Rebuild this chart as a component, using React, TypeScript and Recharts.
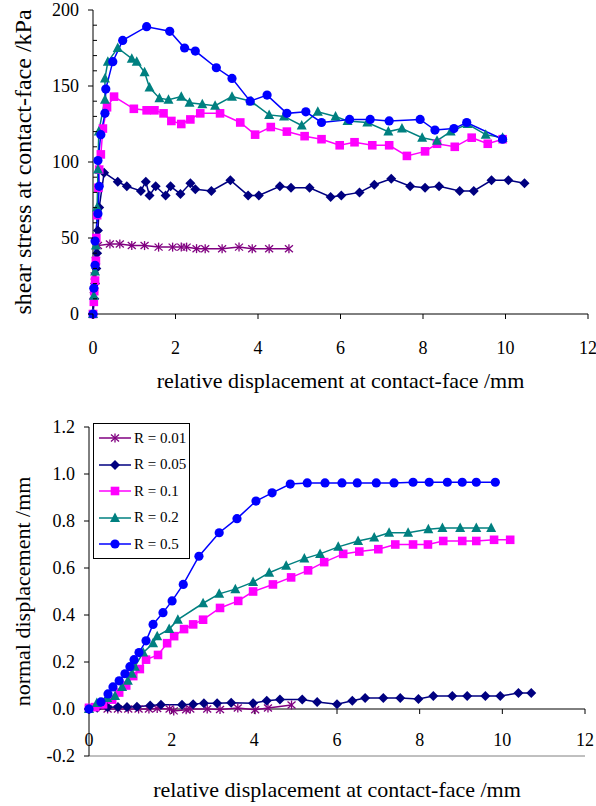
import { Legend, Line, LineChart, ReferenceLine, XAxis, YAxis } from 'recharts'

type Pt = [number, number]

const FONT = '"Liberation Serif", "Times New Roman", serif'

const seriesNames = ['R = 0.01', 'R = 0.05', 'R = 0.1', 'R = 0.2', 'R = 0.5']
const seriesColors = ['#800080', '#000080', '#FF00FF', '#008080', '#0000FF']
const seriesMarkers = ['star', 'diamond', 'square', 'triangle', 'circle']

const xTicks = [0, 2, 4, 6, 8, 10, 12]
const shearTicks = [0, 10, 20, 30, 40, 50, 60, 70, 80, 90, 100, 110, 120, 130, 140, 150, 160, 170, 180, 190, 200]
const normalTicks = [-0.2, 0, 0.2, 0.4, 0.6, 0.8, 1.0, 1.2]

const xTitle = 'relative displacement at contact-face /mm'
const shearTitle = 'shear stress at contact-face /kPa'
const normalTitle = 'normal displacement /mm'

// shear stress (kPa) against relative displacement (mm)
const shear001: Pt[] = [[0, 0], [0.02, 12], [0.04, 25], [0.07, 35], [0.12, 45], [0.41, 46], [0.65, 46], [0.94, 45], [1.25, 45], [1.59, 44], [1.93, 44], [2.14, 44], [2.27, 44], [2.51, 43], [2.72, 43], [3.13, 43], [3.54, 44], [3.86, 43], [4.27, 43], [4.75, 43]]
const shear005: Pt[] = [[0, 0], [0.03, 10], [0.05, 20], [0.08, 30], [0.1, 40], [0.12, 55], [0.15, 70], [0.27, 93], [0.6, 87], [0.82, 84], [1.16, 81], [1.28, 87], [1.37, 78], [1.52, 84], [1.76, 78], [1.88, 84], [2.12, 79], [2.36, 86], [2.48, 82], [2.87, 81], [3.33, 88], [3.76, 78], [4.02, 78], [4.53, 84], [4.8, 83], [5.25, 83], [5.76, 77], [6.02, 78], [6.46, 80], [6.82, 85], [7.23, 89], [7.69, 84], [8.05, 83], [8.39, 84], [8.89, 81], [9.23, 81], [9.66, 88], [10.07, 88], [10.46, 86]]
const shear01: Pt[] = [[0, 0], [0.02, 8], [0.03, 15], [0.05, 22], [0.07, 35], [0.08, 50], [0.1, 65], [0.13, 83], [0.15, 95], [0.19, 105], [0.24, 122], [0.34, 136], [0.51, 143], [0.99, 135], [1.3, 134], [1.49, 134], [1.71, 132], [1.9, 127], [2.14, 125], [2.36, 128], [2.6, 132], [3.08, 132], [3.57, 126], [3.93, 118], [4.31, 123], [4.7, 120], [5.13, 117], [5.54, 115], [5.98, 111], [6.34, 113], [6.77, 111], [7.18, 111], [7.61, 104], [8.05, 107], [8.34, 112], [8.77, 110], [9.18, 116], [9.57, 112], [9.93, 115]]
const shear02: Pt[] = [[0, 0], [0.02, 12], [0.05, 28], [0.07, 45], [0.1, 70], [0.12, 95], [0.14, 120], [0.29, 141], [0.29, 155], [0.36, 166], [0.6, 175], [0.94, 168], [1.06, 166], [1.25, 159], [1.37, 149], [1.61, 142], [1.83, 141], [2.14, 143], [2.34, 139], [2.65, 138], [2.96, 137], [3.37, 143], [3.83, 140], [4.27, 131], [4.63, 130], [5.06, 124], [5.45, 133], [5.88, 130], [6.17, 127], [6.65, 126], [7.16, 120], [7.49, 122], [7.98, 116], [8.34, 114], [8.67, 120], [9.08, 125], [9.52, 118], [9.93, 116]]
const shear05: Pt[] = [[0, 0], [0.02, 17], [0.05, 32], [0.05, 48], [0.12, 66], [0.15, 84], [0.12, 101], [0.19, 118], [0.29, 132], [0.31, 148], [0.48, 166], [0.72, 180], [1.3, 189], [1.86, 186], [2.22, 175], [2.48, 173], [2.99, 162], [3.37, 155], [3.81, 140], [4.22, 144], [4.7, 132], [5.16, 133], [5.54, 126], [6.22, 128], [6.72, 128], [7.18, 127], [7.93, 128], [8.29, 121], [8.75, 122], [9.06, 126], [9.93, 115]]

// normal displacement (mm) against relative displacement (mm)
const normal001: Pt[] = [[0, 0], [0.45, 0], [0.7, 0], [0.95, 0], [1.2, 0], [1.45, 0], [1.65, 0.002], [1.95, 0], [2.05, -0.008], [2.35, -0.003], [2.45, 0], [2.86, 0], [3.17, -0.002], [3.6, 0.004], [4.02, -0.003], [4.33, 0.004], [4.9, 0.017]]
const normal005: Pt[] = [[0, 0], [0.2, 0.005], [0.45, 0.007], [0.7, 0.008], [0.92, 0.008], [1.16, 0.01], [1.48, 0.015], [1.74, 0.018], [2.25, 0.018], [2.52, 0.02], [2.78, 0.025], [3.1, 0.025], [3.44, 0.027], [3.97, 0.025], [4.3, 0.035], [4.62, 0.04], [5.16, 0.04], [5.52, 0.03], [6.0, 0.02], [6.37, 0.035], [6.68, 0.047], [7.12, 0.047], [7.53, 0.047], [7.97, 0.043], [8.33, 0.055], [8.79, 0.055], [9.15, 0.055], [9.59, 0.055], [9.95, 0.055], [10.39, 0.068], [10.7, 0.068]]
const normal01: Pt[] = [[0, 0.005], [0.15, 0.008], [0.34, 0.02], [0.56, 0.04], [0.73, 0.07], [0.9, 0.1], [1.07, 0.14], [1.23, 0.17], [1.38, 0.21], [1.67, 0.23], [1.89, 0.28], [2.06, 0.31], [2.3, 0.34], [2.52, 0.36], [2.76, 0.38], [3.17, 0.43], [3.61, 0.46], [3.97, 0.5], [4.45, 0.53], [4.89, 0.56], [5.3, 0.59], [5.69, 0.625], [6.15, 0.66], [6.54, 0.67], [7.0, 0.68], [7.41, 0.7], [7.84, 0.7], [8.2, 0.7], [8.57, 0.715], [9.03, 0.715], [9.37, 0.715], [9.8, 0.72], [10.19, 0.72]]
const normal02: Pt[] = [[0, 0], [0.19, 0.026], [0.44, 0.047], [0.63, 0.055], [0.8, 0.094], [0.94, 0.12], [1.04, 0.15], [1.11, 0.18], [1.31, 0.24], [1.55, 0.28], [1.65, 0.31], [1.94, 0.34], [2.15, 0.38], [2.76, 0.45], [3.15, 0.49], [3.54, 0.51], [3.97, 0.54], [4.36, 0.58], [4.77, 0.61], [5.21, 0.64], [5.59, 0.66], [6.03, 0.69], [6.51, 0.715], [6.9, 0.73], [7.26, 0.75], [7.72, 0.75], [8.21, 0.765], [8.55, 0.77], [8.98, 0.77], [9.37, 0.77], [9.73, 0.77]]
const normal05: Pt[] = [[0, 0], [0.29, 0.03], [0.46, 0.064], [0.58, 0.094], [0.73, 0.12], [0.87, 0.15], [0.99, 0.18], [1.09, 0.21], [1.21, 0.24], [1.38, 0.29], [1.55, 0.36], [1.79, 0.41], [2.01, 0.46], [2.28, 0.53], [2.66, 0.65], [3.15, 0.75], [3.58, 0.81], [4.04, 0.885], [4.43, 0.92], [4.87, 0.957], [5.28, 0.962], [5.71, 0.962], [6.12, 0.962], [6.49, 0.962], [6.95, 0.962], [7.38, 0.962], [7.84, 0.965], [8.23, 0.965], [8.67, 0.965], [9.03, 0.965], [9.37, 0.965], [9.83, 0.965]]

const shearSeries = [shear001, shear005, shear01, shear02, shear05]
const normalSeries = [normal001, normal005, normal01, normal02, normal05]

const toRows = (pts: Pt[]) => pts.map(([x, y]) => ({ x, y }))

function Marker({ cx, cy, kind, color }: { cx?: number; cy?: number; kind: string; color: string }) {
  if (cx == null || cy == null || Number.isNaN(cx) || Number.isNaN(cy)) return null
  if (kind === 'star') {
    return (
      <g stroke={color} strokeWidth={1.3}>
        <line x1={cx - 4} y1={cy - 3.5} x2={cx + 4} y2={cy + 3.5} />
        <line x1={cx - 4} y1={cy + 3.5} x2={cx + 4} y2={cy - 3.5} />
        <line x1={cx} y1={cy - 4.5} x2={cx} y2={cy + 4.5} />
      </g>
    )
  }
  if (kind === 'diamond') {
    return <polygon points={`${cx},${cy - 5} ${cx + 5},${cy} ${cx},${cy + 5} ${cx - 5},${cy}`} fill={color} />
  }
  if (kind === 'square') return <rect x={cx - 4.3} y={cy - 4.3} width={8.6} height={8.6} fill={color} />
  if (kind === 'triangle') {
    return <polygon points={`${cx},${cy - 5.5} ${cx + 5},${cy + 4} ${cx - 5},${cy + 4}`} fill={color} />
  }
  return <circle cx={cx} cy={cy} r={4.6} fill={color} />
}

const tickText = { fontSize: 18, fill: '#000', fontFamily: FONT }

function ShearTick({ x, y, payload }: any) {
  const major = payload.value % 50 === 0
  return (
    <g>
      {major ? (
        <line x1={x - 5} x2={x} y1={y} y2={y} stroke="#000" />
      ) : (
        <line x1={x} x2={x + 4} y1={y} y2={y} stroke="#000" />
      )}
      {major && (
        <text x={x - 14} y={y} dy="0.35em" textAnchor="end" {...tickText}>
          {payload.value}
        </text>
      )}
    </g>
  )
}

function XTickOut({ x, y, payload }: any) {
  return (
    <g>
      <line x1={x} x2={x} y1={y} y2={y + 5} stroke="#000" />
      <text x={x} y={y + 34} dy="0.35em" textAnchor="middle" {...tickText}>
        {payload.value}
      </text>
    </g>
  )
}

function XTickIn({ x, y, payload }: any) {
  return (
    <text x={x} y={y - 16} dy="0.35em" textAnchor="middle" {...tickText}>
      {payload.value}
    </text>
  )
}

// x axis crossing at y = 0, ticks spread over the same domain as the x axis
function ZeroAxis({ x1, x2, y1 }: any) {
  const lo = xTicks[0]
  const hi = xTicks[xTicks.length - 1]
  return (
    <g>
      <line x1={x1} x2={x2} y1={y1} y2={y1} stroke="#000" />
      {xTicks.map((t) => {
        const x = x1 + ((t - lo) / (hi - lo)) * (x2 - x1)
        return <line key={t} x1={x} x2={x} y1={y1} y2={y1 + 5} stroke="#000" />
      })}
    </g>
  )
}

function LegendBox() {
  return (
    <div style={{ border: '1px solid #000', background: '#fff', width: 95, paddingTop: 1, fontFamily: FONT, fontSize: 15, color: '#000' }}>
      {seriesNames.map((name, i) => (
        <div key={name} style={{ display: 'flex', alignItems: 'center', height: 26.5 }}>
          <svg width={40} height={14} style={{ display: 'block' }}>
            <line x1={5} x2={37} y1={7} y2={7} stroke={seriesColors[i]} strokeWidth={1.5} />
            <Marker cx={21} cy={7} kind={seriesMarkers[i]} color={seriesColors[i]} />
          </svg>
          <span style={{ whiteSpace: 'nowrap', fontFamily: FONT }}>{name}</span>
        </div>
      ))}
    </div>
  )
}

const titleLabel = { fontSize: 22, fill: '#000', fontFamily: FONT }

function ShearChart() {
  return (
    <LineChart width={596} height={400} margin={{ top: 10, right: 8, bottom: 0, left: 0 }}>
      <XAxis
        type="number"
        dataKey="x"
        domain={[0, 12]}
        ticks={xTicks}
        interval={0}
        height={86}
        axisLine={{ stroke: '#000' }}
        tickLine={false}
        tickSize={0}
        tickMargin={0}
        tick={(p: any) => <XTickOut {...p} />}
        label={{ value: xTitle, position: 'insideTop', offset: 58, ...titleLabel }}
      />
      <XAxis xAxisId="top" orientation="top" type="number" domain={[0, 12]} height={0} tick={false} tickLine={false} axisLine={{ stroke: '#808080' }} />
      <YAxis
        type="number"
        domain={[0, 200]}
        ticks={shearTicks}
        interval={0}
        width={93}
        axisLine={{ stroke: '#000' }}
        tickLine={false}
        tickSize={0}
        tickMargin={0}
        tick={(p: any) => <ShearTick {...p} />}
        label={{ value: shearTitle, angle: -90, position: 'insideLeft', offset: 22, ...titleLabel, fontSize: 24, style: { textAnchor: 'middle' } }}
      />
      <YAxis yAxisId="right" orientation="right" type="number" domain={[0, 200]} width={0} tick={false} tickLine={false} axisLine={{ stroke: '#808080' }} />
      {shearSeries.map((pts, i) => (
        <Line
          key={seriesNames[i]}
          data={toRows(pts)}
          dataKey="y"
          name={seriesNames[i]}
          type="linear"
          stroke={seriesColors[i]}
          strokeWidth={1.5}
          isAnimationActive={false}
          activeDot={false}
          dot={(p: any) => <Marker key={p.index} cx={p.cx} cy={p.cy} kind={seriesMarkers[i]} color={seriesColors[i]} />}
        />
      ))}
    </LineChart>
  )
}

function NormalChart() {
  return (
    <LineChart width={596} height={406} margin={{ top: 27, right: 11, bottom: 0, left: 0 }}>
      <XAxis
        type="number"
        dataKey="x"
        domain={[0, 12]}
        ticks={xTicks}
        interval={0}
        height={50}
        axisLine={{ stroke: '#808080' }}
        tickLine={false}
        tickSize={0}
        tickMargin={0}
        tick={(p: any) => <XTickIn {...p} />}
        label={{ value: xTitle, position: 'insideTop', offset: 25, ...titleLabel }}
      />
      <XAxis xAxisId="top" orientation="top" type="number" domain={[0, 12]} height={0} tick={false} tickLine={false} axisLine={{ stroke: '#808080' }} />
      <YAxis
        type="number"
        domain={[-0.2, 1.2]}
        ticks={normalTicks}
        interval={0}
        width={89}
        axisLine={{ stroke: '#000' }}
        tickLine={{ stroke: '#000' }}
        tickSize={5}
        tickMargin={9}
        tickFormatter={(v: number) => v.toFixed(1)}
        tick={tickText}
        label={{ value: normalTitle, angle: -90, position: 'insideLeft', offset: 22, ...titleLabel, style: { textAnchor: 'middle' } }}
      />
      <YAxis yAxisId="right" orientation="right" type="number" domain={[-0.2, 1.2]} width={0} tick={false} tickLine={false} axisLine={{ stroke: '#808080' }} />
      <ReferenceLine y={0} stroke="#000" shape={(p: any) => <ZeroAxis {...p} />} />
      {normalSeries.map((pts, i) => (
        <Line
          key={seriesNames[i]}
          data={toRows(pts)}
          dataKey="y"
          name={seriesNames[i]}
          type="linear"
          stroke={seriesColors[i]}
          strokeWidth={1.5}
          isAnimationActive={false}
          activeDot={false}
          dot={(p: any) => <Marker key={p.index} cx={p.cx} cy={p.cy} kind={seriesMarkers[i]} color={seriesColors[i]} />}
        />
      ))}
      <Legend
        layout="vertical"
        align="center"
        verticalAlign="middle"
        content={() => <LegendBox />}
        wrapperStyle={{ left: 93, top: 23, width: 'auto', height: 'auto' }}
      />
    </LineChart>
  )
}

export default function App() {
  return (
    <div style={{ position: 'absolute', left: 0, top: 0, width: 596, height: 806, background: '#fff', fontFamily: FONT }}>
      <div style={{ position: 'absolute', left: 0, top: 0 }}>
        <ShearChart />
      </div>
      <div style={{ position: 'absolute', left: 0, top: 400 }}>
        <NormalChart />
      </div>
    </div>
  )
}
